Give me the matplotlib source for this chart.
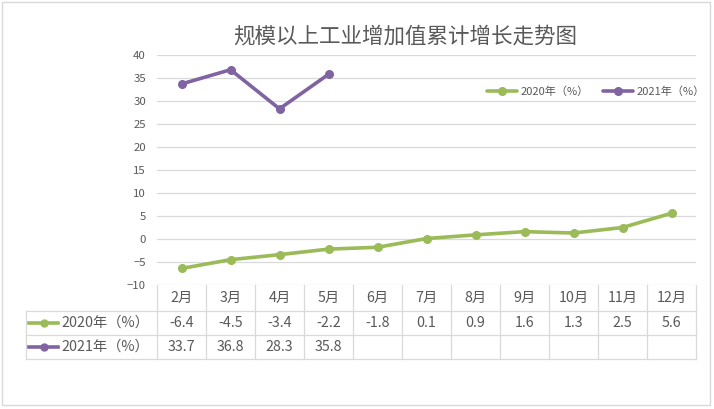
import matplotlib
matplotlib.use("Agg")
import matplotlib.pyplot as plt
from matplotlib.lines import Line2D
from matplotlib.patches import Rectangle
from matplotlib.transforms import blended_transform_factory

plt.rcParams['font.family'] = ['Noto Sans CJK SC', 'DejaVu Sans']

months = ["2月", "3月", "4月", "5月", "6月", "7月", "8月", "9月", "10月", "11月", "12月"]
v2020 = [-6.4, -4.5, -3.4, -2.2, -1.8, 0.1, 0.9, 1.6, 1.3, 2.5, 5.6]
v2021 = [33.7, 36.8, 28.3, 35.8]
names = ["2020年（%）", "2021年（%）"]
yticks = [-10, -5, 0, 5, 10, 15, 20, 25, 30, 35, 40]

GREEN = "#9BBB59"
PURPLE = "#8064A2"
GRID = "#D9D9D9"
TXT = "#595959"

W, H = 714, 409
fig = plt.figure(figsize=(W / 100, H / 100), dpi=100)


def fx(px):
    return px / W


def fy(py):
    return 1 - py / H


# plot area in pixels: x 157..696, y 55 (40) .. 285 (-10)
ax = fig.add_axes([fx(157), fy(285), fx(696 - 157), (285 - 55) / H])
x = list(range(len(months)))
ax.plot(x, v2020, color=GREEN, lw=2.6, marker="o", ms=5.5, label=names[0],
        solid_capstyle="round")
ax.plot(x[:len(v2021)], v2021, color=PURPLE, lw=2.6, marker="o", ms=5.5,
        label=names[1], solid_capstyle="round")
ax.set_xlim(-0.5, len(months) - 0.5)
ax.set_ylim(-10, 40)
ax.set_yticks(yticks)
ax.set_xticks([])
ax.grid(axis="y", color=GRID, lw=0.9)
ax.set_axisbelow(True)
for s in ax.spines.values():
    s.set_visible(False)
ax.tick_params(axis="y", length=0, pad=8, labelsize=8.2, labelcolor=TXT)

ax.legend(loc="center left", bbox_to_anchor=((487 - 157) / (696 - 157), (285 - 92) / 230),
          ncol=2, frameon=False, fontsize=8, labelcolor=TXT, handlelength=2.7,
          handletextpad=0.3, columnspacing=1.3, borderpad=0, borderaxespad=0)

fig.text(fx(405), fy(37), "规模以上工业增加值累计增长走势图", ha="center", va="center",
         fontsize=15.5, color=TXT)

# data table under the plot
bt = blended_transform_factory(ax.transData, fig.transFigure)
rows_y = [285, 311, 335, 359]
for y in rows_y[1:]:
    fig.add_artist(Line2D([fx(26), fx(696)], [fy(y), fy(y)], color=GRID, lw=0.9))
fig.add_artist(Line2D([fx(26), fx(26)], [fy(311), fy(359)], color=GRID, lw=0.9))
for i in range(len(months) + 1):
    ax.add_artist(Line2D([i - 0.5, i - 0.5], [fy(285), fy(359)], color=GRID, lw=0.9,
                         transform=bt, clip_on=False))

for i, m in enumerate(months):
    ax.text(i, fy(298), m, transform=bt, ha="center", va="center", fontsize=10.3, color=TXT)
for i, v in enumerate(v2020):
    ax.text(i, fy(323), f"{v:.1f}", transform=bt, ha="center", va="center",
            fontsize=10.3, color=TXT)
for i, v in enumerate(v2021):
    ax.text(i, fy(347), f"{v:.1f}", transform=bt, ha="center", va="center",
            fontsize=10.3, color=TXT)

for name, col, yc in [(names[0], GREEN, 323), (names[1], PURPLE, 347)]:
    fig.add_artist(Line2D([fx(29), fx(58)], [fy(yc), fy(yc)], color=col, lw=2.6))
    fig.add_artist(Line2D([fx(43.5)], [fy(yc)], color=col, marker="o", ms=5))
    fig.text(fx(61), fy(yc), name, ha="left", va="center", fontsize=10.3, color=TXT)

fig.add_artist(Rectangle((fx(2), fy(405)), fx(708), (405 - 2) / H, fill=False,
                         edgecolor=GRID, lw=1, transform=fig.transFigure))

fig.savefig("out.png", dpi=100)
